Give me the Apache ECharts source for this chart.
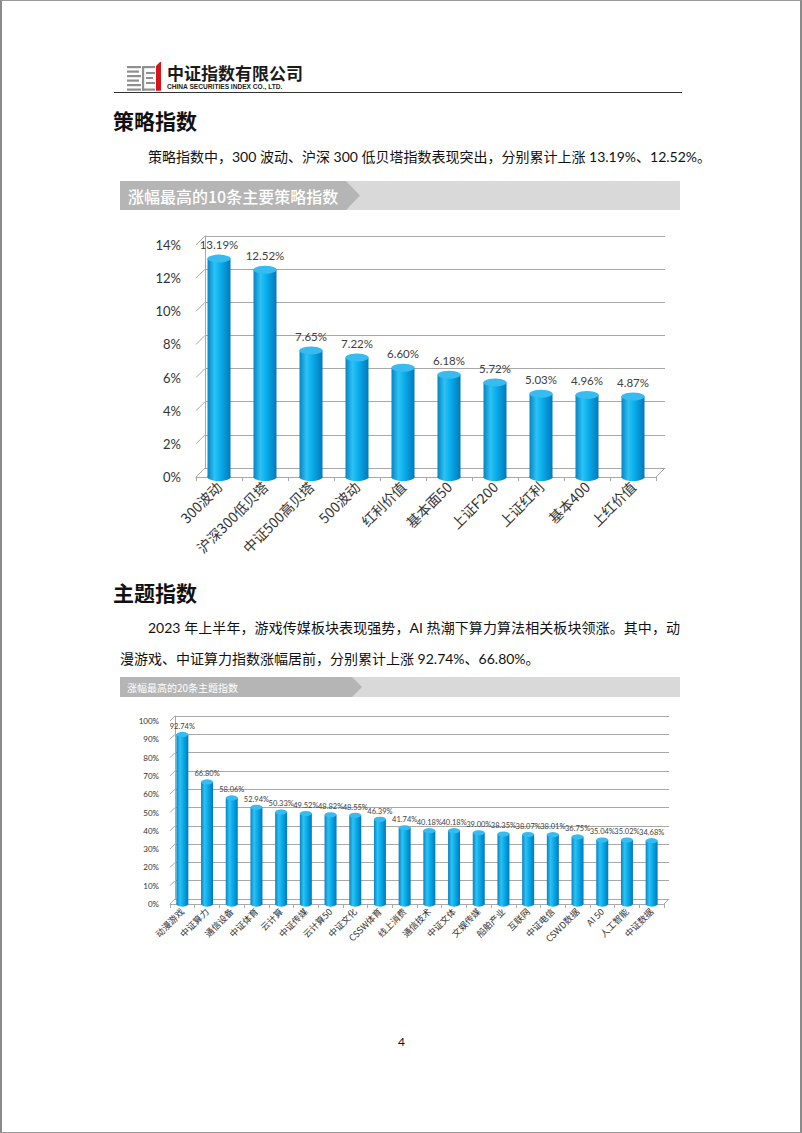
<!DOCTYPE html>
<html>
<head>
<meta charset="utf-8">
<script src="https://cdn.jsdelivr.net/npm/echarts@6/dist/echarts.min.js"></script>
<style>
  html, body { margin:0; padding:0; background:#fff; }
  #page { position:relative; width:802px; height:1133px; overflow:hidden; background:#fff; }
  #frame { position:absolute; left:0; top:0; width:802px; height:1133px; box-sizing:border-box; border:1px solid #9a9a9a; border-left:2px solid #8a8a8a; border-right:2px solid #8a8a8a; z-index:5; pointer-events:none; }
  #chart { position:absolute; left:0; top:0; width:802px; height:1133px; z-index:2; }
  .t { position:absolute; z-index:3; white-space:nowrap; color:#1a1a1a; }
  .h { font-family: "Noto Sans CJK SC", sans-serif; font-weight:700; font-size:21px; line-height:24px; color:#111; }
  .p { font-family: "Lato", "Noto Sans CJK SC", sans-serif; font-size:14px; line-height:20px; color:#111; }
  .bar { position:absolute; z-index:1; }
  .bar .light { position:absolute; left:0; top:0; width:100%; height:100%; background:#d9d9d9; }
  .bar .dark { position:absolute; left:0; top:0; height:100%; background:#b5b5b5; }
  .bar .lbl { position:absolute; left:8px; top:0; height:100%; display:flex; align-items:center; color:#fff; font-family:"Noto Sans CJK SC", sans-serif; white-space:nowrap; }
</style>
</head>
<body>
<div id="page">
  <div id="frame"></div>

  <!-- header -->
  <svg class="t" style="left:126px; top:60px;" width="38" height="32" viewBox="0 0 38 32">
    <g fill="#8f8f8f">
      <rect x="1" y="6" width="14" height="2.2"/>
      <rect x="1" y="10.5" width="12" height="2.2"/>
      <rect x="1" y="15" width="14" height="2.2"/>
      <rect x="1" y="19.5" width="12" height="2.2"/>
      <rect x="1" y="24" width="14" height="2.2"/>
      <rect x="1" y="28.5" width="14" height="2.2"/>
      <rect x="16" y="6" width="13" height="2.2"/>
      <rect x="16" y="6" width="2.2" height="24.7"/>
      <rect x="20" y="12" width="9" height="2"/>
      <rect x="20" y="17" width="7" height="2"/>
      <rect x="20" y="22" width="9" height="2"/>
      <rect x="16" y="28.5" width="13" height="2.2"/>
    </g>
    <polygon fill="#d7141a" points="30,6 34,2 35,2 35,30.7 30,30.7"/>
  </svg>
  <div class="t" style="left:167px; top:63px; font-family:'Noto Sans CJK SC',sans-serif; font-weight:700; font-size:17px; line-height:20px; color:#1a1a1a;">中证指数有限公司</div>
  <div class="t" style="left:167px; top:83px; font-family:'Liberation Sans',Arial,sans-serif; font-weight:700; font-size:6.6px; line-height:8px; color:#1a1a1a;">CHINA SECURITIES INDEX CO., LTD.</div>
  <div class="t" style="left:114px; top:92px; width:568px; height:0; border-top:1.5px solid #333;"></div>

  <!-- section 1 -->
  <div class="t h" style="left:113px; top:108px;">策略指数</div>
  <div class="t p" style="left:148px; top:147px;">策略指数中，300 波动、沪深 300 低贝塔指数表现突出，分别累计上涨 13.19%、12.52%。</div>

  <div class="bar" style="left:120px; top:181px; width:560px; height:29px;">
    <div class="light"></div>
    <div class="dark" style="width:240px; clip-path:polygon(0 0, 226px 0, 240px 50%, 226px 100%, 0 100%);"></div>
    <div class="lbl" style="font-size:16px; font-weight:500;">涨幅最高的10条主要策略指数</div>
  </div>

  <!-- section 2 -->
  <div class="t h" style="left:113px; top:580px;">主题指数</div>
  <div class="t p" style="left:148px; top:618px; width:532px; text-align:justify; text-align-last:justify;">2023 年上半年，游戏传媒板块表现强势，AI 热潮下算力算法相关板块领涨。其中，动</div>
  <div class="t p" style="left:120px; top:649px;">漫游戏、中证算力指数涨幅居前，分别累计上涨 92.74%、66.80%。</div>

  <div class="bar" style="left:120px; top:677px; width:560px; height:20px;">
    <div class="light"></div>
    <div class="dark" style="width:242px; clip-path:polygon(0 0, 232px 0, 242px 50%, 232px 100%, 0 100%);"></div>
    <div class="lbl" style="left:7px; font-size:10px;">涨幅最高的20条主题指数</div>
  </div>

  <div class="t" style="left:398px; top:1034px; font-family:'Lato',sans-serif; font-size:12px; line-height:16px; color:#111;">4</div>

  <div id="chart"></div>
</div>

<script>
// ---------- data ----------
const strategyCategories = ['300波动', '沪深300低贝塔', '中证500高贝塔', '500波动', '红利价值', '基本面50', '上证F200', '上证红利', '基本400', '上红价值'];
const strategyValues = [13.19, 12.52, 7.65, 7.22, 6.60, 6.18, 5.72, 5.03, 4.96, 4.87];
const strategyTicks = [0, 2, 4, 6, 8, 10, 12, 14];

const themeCategories = ['动漫游戏', '中证算力', '通信设备', '中证体育', '云计算', '中证传媒', '云计算50', '中证文化', 'CSSW体育', '线上消费', '通信技术', '中证文体', '文娱传媒', '船舶产业', '互联网', '中证电信', 'CSWD数据', 'AI 50', '人工智能', '中证数据'];
const themeValues = [92.74, 66.80, 58.06, 52.94, 50.33, 49.52, 48.82, 48.55, 46.39, 41.74, 40.18, 40.18, 39.00, 38.35, 38.07, 38.01, 36.75, 35.04, 35.02, 34.68];
const themeTicks = [0, 10, 20, 30, 40, 50, 60, 70, 80, 90, 100];

// ---------- styles ----------
const GRID_GRAY = '#a8a8a8';
const cylGrad = {
  type: 'linear', x: 0, y: 0, x2: 1, y2: 0,
  colorStops: [
    { offset: 0, color: '#0683c4' },
    { offset: 0.3, color: '#2cc2f4' },
    { offset: 0.55, color: '#0aaeec' },
    { offset: 1, color: '#0478b8' }
  ]
};
const topColor = '#36bcf0';
const numFont = 'Lato, "Open Sans", sans-serif';
const cjkFont = '"Noto Sans CJK SC", sans-serif';

function wallRender(dx, dy) {
  return function (params, api) {
    const cs = params.coordSys;
    const v = api.value(1);
    const y = api.coord([0, v])[1];
    const children = [{
      type: 'line',
      shape: { x1: cs.x, y1: y, x2: cs.x + dx, y2: y - dy },
      style: { stroke: GRID_GRAY, lineWidth: 1 }
    }];
    if (v === 0) {
      children.push({
        type: 'line',
        shape: { x1: cs.x + cs.width, y1: y, x2: cs.x + cs.width + dx, y2: y - dy },
        style: { stroke: GRID_GRAY, lineWidth: 1 }
      });
    }
    return { type: 'group', children: children };
  };
}

function axesFor(cats, backGrid, frontGrid, maxV, step, yFont, yMargin, xFont, xMargin) {
  const xAxes = [
    { type: 'category', gridIndex: backGrid, data: cats, axisLine: { show: true, lineStyle: { color: GRID_GRAY } }, axisTick: { show: false }, axisLabel: { show: false } },
    { type: 'category', gridIndex: frontGrid, data: cats,
      axisLine: { show: true, lineStyle: { color: GRID_GRAY } },
      axisTick: { show: true, length: 4, lineStyle: { color: GRID_GRAY } },
      axisLabel: { interval: 0, rotate: 45, margin: xMargin, fontSize: xFont, color: '#333', fontFamily: cjkFont } }
  ];
  const yAxes = [
    { type: 'value', gridIndex: backGrid, min: 0, max: maxV, interval: step,
      axisLine: { show: true, lineStyle: { color: GRID_GRAY } }, axisTick: { show: false }, axisLabel: { show: false },
      splitLine: { show: true, lineStyle: { color: GRID_GRAY, width: 1 } } },
    { type: 'value', gridIndex: frontGrid, min: 0, max: maxV, interval: step,
      axisLine: { show: false }, axisTick: { show: false }, splitLine: { show: false },
      axisLabel: { formatter: '{value}%', margin: yMargin, fontSize: yFont, color: '#333', fontFamily: numFont } }
  ];
  return { xAxes, yAxes };
}

const a1 = axesFor(strategyCategories, 0, 1, 14, 2, 13, 15, 14, 7);
const a2 = axesFor(themeCategories, 2, 3, 100, 10, 8, 11, 9, 6);

function cylinderSeries(values, xi, yi, bw, capH, labelSize, labelDist) {
  return [
    { type: 'bar', xAxisIndex: xi, yAxisIndex: yi, data: values, barWidth: bw, z: 2,
      itemStyle: { color: cylGrad },
      label: { show: true, position: 'top', distance: labelDist, fontSize: labelSize, color: '#404040', fontFamily: numFont,
        formatter: p => p.value.toFixed(2) + '%' } },
    { type: 'pictorialBar', xAxisIndex: xi, yAxisIndex: yi, data: values, symbol: 'circle',
      symbolSize: [bw, capH], symbolPosition: 'end', symbolOffset: [0, '-50%'], z: 3,
      itemStyle: { color: topColor, borderColor: '#0a9edb', borderWidth: 0.6 }, silent: true },
    { type: 'pictorialBar', xAxisIndex: xi, yAxisIndex: yi, data: values, symbol: 'circle',
      symbolSize: [bw, capH], symbolPosition: 'start', symbolOffset: [0, '50%'], z: 1,
      itemStyle: { color: cylGrad }, silent: true }
  ];
}

const option = {
  animation: false,
  grid: [
    { left: 205, top: 236, width: 460, height: 232 },
    { left: 196, top: 245, width: 460, height: 232 },
    { left: 175, top: 716, width: 494, height: 183 },
    { left: 170, top: 721, width: 494, height: 183 }
  ],
  xAxis: [...a1.xAxes, ...a2.xAxes],
  yAxis: [...a1.yAxes, ...a2.yAxes],
  series: [
    { type: 'custom', xAxisIndex: 1, yAxisIndex: 1, renderItem: wallRender(9, 9), data: strategyTicks.map(t => [0, t]), silent: true, z: 0 },
    { type: 'custom', xAxisIndex: 3, yAxisIndex: 3, renderItem: wallRender(5, 5), data: themeTicks.map(t => [0, t]), silent: true, z: 0 },
    ...cylinderSeries(strategyValues, 1, 1, 23, 8, 11.5, 8),
    ...cylinderSeries(themeValues, 3, 3, 12, 5, 7.5, 4)
  ]
};

const chart = echarts.init(document.getElementById('chart'), null, { renderer: 'svg' });
chart.setOption(option);
</script>
</body>
</html>
